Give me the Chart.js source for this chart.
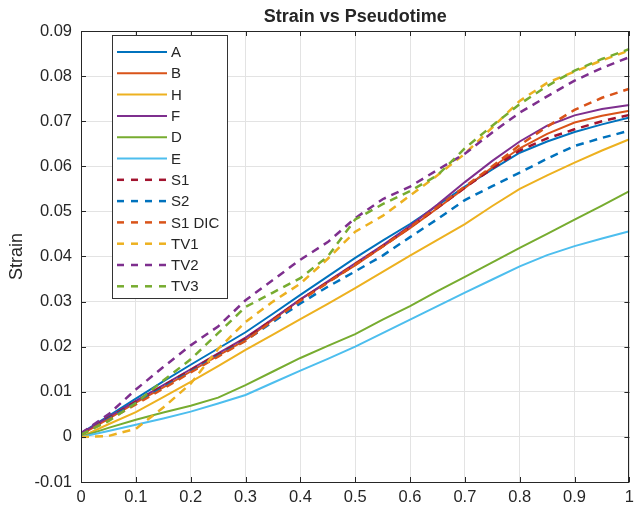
<!DOCTYPE html>
<html>
<head>
<meta charset="utf-8">
<script src="https://cdn.jsdelivr.net/npm/chart.js@4.4.1/dist/chart.umd.min.js"></script>
<style>
  html, body { margin: 0; padding: 0; background: #fff; }
  #wrap { width: 640px; height: 510px; }
</style>
</head>
<body>
<div id="wrap"><canvas id="strain-chart" width="640" height="510"></canvas></div>
<script>
// pseudotime samples shared by every curve
var pseudotime = [0, 0.05, 0.1, 0.15, 0.2, 0.25, 0.3, 0.35, 0.4, 0.45, 0.5,
                  0.55, 0.6, 0.65, 0.7, 0.75, 0.8, 0.85, 0.9, 0.95, 1];

var strainA    = [0.0008,0.0046,0.0085,0.0123,0.0160,0.0196,0.0232,0.0273,0.0315,0.0356,0.0397,0.0435,0.0472,0.0513,0.0555,0.0593,0.0630,0.0655,0.0676,0.0693,0.0708];
var strainB    = [0.0005,0.0040,0.0076,0.0110,0.0145,0.0180,0.0215,0.0260,0.0305,0.0343,0.0380,0.0422,0.0463,0.0507,0.0552,0.0598,0.0640,0.0672,0.0697,0.0712,0.0723];
var strainH    = [0.0000,0.0028,0.0055,0.0088,0.0122,0.0157,0.0193,0.0227,0.0261,0.0295,0.0330,0.0366,0.0402,0.0437,0.0472,0.0512,0.0550,0.0580,0.0608,0.0635,0.0660];
var strainF    = [0.0008,0.0044,0.0080,0.0115,0.0150,0.0185,0.0220,0.0262,0.0305,0.0345,0.0385,0.0425,0.0468,0.0515,0.0565,0.0612,0.0655,0.0690,0.0713,0.0727,0.0736];
var strainD    = [0.0000,0.0020,0.0038,0.0054,0.0069,0.0087,0.0115,0.0145,0.0175,0.0202,0.0228,0.0260,0.0290,0.0323,0.0355,0.0387,0.0419,0.0450,0.0482,0.0513,0.0545];
var strainE    = [0.0000,0.0013,0.0027,0.0041,0.0056,0.0074,0.0093,0.0120,0.0147,0.0173,0.0200,0.0230,0.0260,0.0290,0.0320,0.0349,0.0378,0.0403,0.0423,0.0440,0.0456];
var strainS1   = [0.0008,0.0042,0.0078,0.0113,0.0148,0.0183,0.0218,0.0260,0.0303,0.0343,0.0383,0.0423,0.0465,0.0508,0.0553,0.0595,0.0635,0.0662,0.0682,0.0700,0.0714];
var strainS2   = [0.0005,0.0040,0.0075,0.0110,0.0145,0.0180,0.0214,0.0255,0.0296,0.0333,0.0367,0.0402,0.0443,0.0483,0.0525,0.0556,0.0586,0.0617,0.0645,0.0663,0.0679];
var strainS1D  = [0.0005,0.0038,0.0072,0.0107,0.0143,0.0178,0.0213,0.0258,0.0302,0.0342,0.0382,0.0422,0.0465,0.0510,0.0555,0.0600,0.0647,0.0688,0.0725,0.0752,0.0772];
var strainTV1  = [0.0000,0.0002,0.0018,0.0065,0.0118,0.0195,0.0255,0.0300,0.0340,0.0395,0.0455,0.0490,0.0535,0.0580,0.0628,0.0686,0.0745,0.0785,0.0810,0.0835,0.0857];
var strainTV2  = [0.0008,0.0050,0.0105,0.0155,0.0203,0.0245,0.0303,0.0348,0.0393,0.0432,0.0485,0.0527,0.0555,0.0592,0.0628,0.0675,0.0719,0.0755,0.0790,0.0818,0.0842];
var strainTV3  = [0.0005,0.0035,0.0075,0.0125,0.0172,0.0230,0.0288,0.0320,0.0352,0.0400,0.0482,0.0516,0.0545,0.0580,0.0640,0.0690,0.0738,0.0778,0.0812,0.0838,0.0860];

var seriesNames  = ['A', 'B', 'H', 'F', 'D', 'E', 'S1', 'S2', 'S1 DIC', 'TV1', 'TV2', 'TV3'];
var seriesValues = [strainA, strainB, strainH, strainF, strainD, strainE,
                    strainS1, strainS2, strainS1D, strainTV1, strainTV2, strainTV3];
var seriesDashed = [false, false, false, false, false, false, true, true, true, true, true, true];

// matlab default colour order
var palette = ['#0072BD', '#D95319', '#EDB120', '#7E2F8E', '#77AC30', '#4DBEEE', '#A2142F'];

var xTicks = [0, 0.1, 0.2, 0.3, 0.4, 0.5, 0.6, 0.7, 0.8, 0.9, 1];
var yTicks = [-0.01, 0, 0.01, 0.02, 0.03, 0.04, 0.05, 0.06, 0.07, 0.08, 0.09];

var FONT = "'Liberation Sans', Arial, Helvetica, sans-serif";
var INK = '#262626';

var datasets = seriesNames.map(function(name, i) {
    return {
        label: name,
        data: pseudotime.map(function(t, k) { return { x: t, y: seriesValues[i][k] }; }),
        borderColor: palette[i % palette.length],
        borderWidth: seriesDashed[i] ? 2.5 : 2,
        borderDash: seriesDashed[i] ? [8, 6] : [],
        pointRadius: 0,
        tension: 0,
        fill: false,
        order: seriesNames.length - i   // later series on top, like matlab
    };
});

// box, inward ticks, title, y label, legend
var matlabAxes = {
    id: 'matlabAxes',
    afterDatasetsDraw: function(chart) {
        var ctx = chart.ctx;
        var a = chart.chartArea;
        var xs = chart.scales.x, ys = chart.scales.y;
        var tl = 5;
        ctx.save();
        ctx.strokeStyle = INK;
        ctx.lineWidth = 1;
        ctx.beginPath();
        xTicks.forEach(function(v) {
            var px = Math.round(xs.getPixelForValue(v)) + 0.5;
            ctx.moveTo(px, a.bottom); ctx.lineTo(px, a.bottom - tl);
            ctx.moveTo(px, a.top); ctx.lineTo(px, a.top + tl);
        });
        yTicks.forEach(function(v) {
            var py = Math.round(ys.getPixelForValue(v)) + 0.5;
            ctx.moveTo(a.left, py); ctx.lineTo(a.left + tl, py);
            ctx.moveTo(a.right, py); ctx.lineTo(a.right - tl, py);
        });
        ctx.stroke();
        ctx.strokeRect(Math.round(a.left) + 0.5, Math.round(a.top) + 0.5,
                       Math.round(a.right - a.left) - 1, Math.round(a.bottom - a.top));

        // legend
        var lx = 112, ly = 35, lw = 115, lh = 263, step = 21.3;
        ctx.fillStyle = '#fff';
        ctx.fillRect(lx, ly, lw, lh);
        ctx.strokeStyle = '#333';
        ctx.strokeRect(lx + 0.5, ly + 0.5, lw, lh);
        ctx.font = '15px ' + FONT;
        ctx.textBaseline = 'middle';
        ctx.textAlign = 'left';
        seriesNames.forEach(function(name, i) {
            var cy = ly + 17 + i * step;
            ctx.strokeStyle = palette[i % palette.length];
            ctx.lineWidth = seriesDashed[i] ? 2.5 : 2;
            ctx.setLineDash(seriesDashed[i] ? [7, 7] : []);
            ctx.beginPath();
            ctx.moveTo(lx + 5, cy); ctx.lineTo(lx + 55, cy);
            ctx.stroke();
            ctx.setLineDash([]);
            ctx.fillStyle = INK;
            ctx.fillText(name, lx + 59, cy + 1);
        });

        // title and y label
        ctx.fillStyle = INK;
        ctx.textAlign = 'center';
        ctx.font = 'bold 18px ' + FONT;
        ctx.fillText('Strain vs Pseudotime', (a.left + a.right) / 2, 17);
        ctx.font = '18px ' + FONT;
        ctx.translate(17, (a.top + a.bottom) / 2);
        ctx.rotate(-Math.PI / 2);
        ctx.fillText('Strain', 0, 0);
        ctx.restore();
    }
};

var strainChart = new Chart(document.getElementById('strain-chart').getContext('2d'), {
    type: 'line',
    data: { datasets: datasets },
    plugins: [matlabAxes],
    options: {
        responsive: false,
        animation: false,
        layout: { padding: { left: 0, right: 3, top: 31, bottom: 0 } },
        plugins: {
            legend: { display: false },
            title: { display: false },
            tooltip: { enabled: false }
        },
        scales: {
            x: {
                type: 'linear',
                min: 0,
                max: 1,
                afterFit: function(s) { s.height = 28; },
                afterBuildTicks: function(s) { s.ticks = xTicks.map(function(v) { return { value: v }; }); },
                grid: { color: '#e3e3e3', drawTicks: false },
                border: { display: false },
                ticks: {
                    color: INK,
                    padding: 6,
                    maxRotation: 0,
                    font: { family: FONT, size: 16.5 },
                    callback: function(v) { return String(+v.toFixed(1)); }
                }
            },
            y: {
                type: 'linear',
                min: -0.01,
                max: 0.09,
                afterFit: function(s) { s.width = 81; },
                afterBuildTicks: function(s) { s.ticks = yTicks.map(function(v) { return { value: v }; }); },
                grid: { color: '#e3e3e3', drawTicks: false },
                border: { display: false },
                ticks: {
                    color: INK,
                    padding: 9,
                    font: { family: FONT, size: 16.5 },
                    callback: function(v) { return String(+v.toFixed(2)); }
                }
            }
        }
    }
});
</script>
</body>
</html>
